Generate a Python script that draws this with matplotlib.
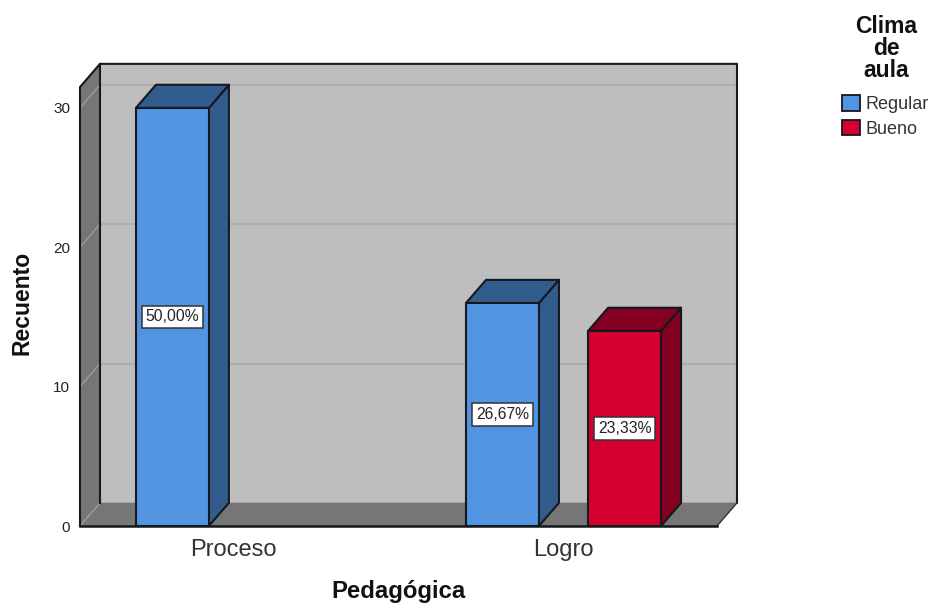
import matplotlib
matplotlib.use('Agg')
import matplotlib.pyplot as plt
from matplotlib.patches import Polygon, Patch

plt.rcParams['font.family'] = ['Liberation Sans', 'DejaVu Sans']

categories = ['Proceso', 'Logro']
series = ['Regular', 'Bueno']
regular = [30, 16]
bueno = [0, 14]
regular_labels = ['50,00%', '26,67%']
bueno_labels = ['', '23,33%']
yticks = [0, 10, 20, 30]

FRONT = {'Regular': '#5294E2', 'Bueno': '#D5002F'}
SIDE = {'Regular': '#335C8E', 'Bueno': '#830020'}
EDGE = '#14181f'

# depth of the fake 3d box, in data units
DX = 0.0606
DY = 1.66
XMIN, XMAX = -0.465, 1.465
YMAX = 31.5
BAR_W = 0.221
OFFSET = 0.185


def poly(ax, pts, color, edge='none', lw=1.5, z=1):
    ax.add_patch(Polygon(pts, closed=True, facecolor=color, edgecolor=edge,
                         linewidth=lw, zorder=z, clip_on=False, joinstyle='round'))


def drawWalls(ax):
    poly(ax, [(XMIN + DX, DY), (XMAX + DX, DY), (XMAX + DX, YMAX + DY), (XMIN + DX, YMAX + DY)], '#BEBEBE', z=1)
    poly(ax, [(XMIN, 0), (XMAX, 0), (XMAX + DX, DY), (XMIN + DX, DY)], '#767676', z=2)
    poly(ax, [(XMIN, 0), (XMIN + DX, DY), (XMIN + DX, YMAX + DY), (XMIN, YMAX)], '#767676', z=2)
    for t in yticks:
        ax.plot([XMIN + DX, XMAX + DX], [t + DY, t + DY], color='#ADADAD', lw=1.4, zorder=1.5, clip_on=False)
        ax.plot([XMIN, XMIN + DX], [t, t + DY], color='#9C9C9C', lw=1.0, zorder=2.5, clip_on=False)
    # outline of the box
    ax.plot([XMIN, XMIN, XMIN + DX, XMAX + DX, XMAX + DX], [0, YMAX, YMAX + DY, YMAX + DY, DY],
            color=EDGE, lw=1.5, zorder=3, clip_on=False)
    ax.plot([XMAX + DX, XMAX], [DY, 0], color='#333333', lw=1.0, zorder=3, clip_on=False)
    ax.plot([XMIN + DX, XMIN + DX], [DY, YMAX + DY], color=EDGE, lw=1.5, zorder=3, clip_on=False)
    ax.plot([XMIN, XMAX], [0, 0], color=EDGE, lw=1.8, zorder=3, clip_on=False)


def drawBar(ax, x, value, name, label):
    if value == 0:
        return
    l = x - BAR_W / 2
    r = x + BAR_W / 2
    poly(ax, [(l, 0), (r, 0), (r, value), (l, value)], FRONT[name], EDGE, z=5)
    poly(ax, [(r, 0), (r + DX, DY), (r + DX, value + DY), (r, value)], SIDE[name], EDGE, z=4)
    poly(ax, [(l, value), (r, value), (r + DX, value + DY), (l + DX, value + DY)], SIDE[name], EDGE, z=4)
    ax.text(x, value / 2, label, ha='center', va='center', fontsize=11.3, color='#222222', zorder=6,
            bbox=dict(boxstyle='square,pad=0.25', facecolor='white', edgecolor='#333333', linewidth=1.1))


fig = plt.figure(figsize=(9.31, 6.03), dpi=100)
ax = fig.add_axes([80 / 931, (603 - 526) / 603, 637 / 931, 439 / 603])
ax.set_xlim(XMIN, XMAX)
ax.set_ylim(0, YMAX)
for s in ax.spines.values():
    s.set_visible(False)

drawWalls(ax)
for i in range(len(categories)):
    drawBar(ax, i - OFFSET, regular[i], 'Regular', regular_labels[i])
    drawBar(ax, i + OFFSET, bueno[i], 'Bueno', bueno_labels[i])

ax.set_xticks(range(len(categories)))
ax.set_xticklabels(categories, fontsize=17, color='#333333')
ax.set_yticks(yticks)
ax.set_yticklabels([str(t) for t in yticks], fontsize=11, color='#222222')
ax.tick_params(axis='x', length=0, pad=9.5)
ax.tick_params(axis='y', length=0, pad=7)
ax.set_xlabel('Pedagógica', fontsize=17.2, fontweight='bold', labelpad=13.8, color='#111111')
ax.set_ylabel('Recuento', fontsize=16.5, fontweight='bold', labelpad=14, color='#111111', y=0.508)

fig.text(886 / 931, 1 - 48.5 / 603, 'Clima\nde\naula', ha='center', va='center', fontsize=16.5,
         fontweight='bold', linespacing=0.94, color='#111111')
handles = [Patch(facecolor=FRONT[n], edgecolor=EDGE, linewidth=1.3, label=n) for n in series]
fig.legend(handles=handles, loc='upper left', bbox_to_anchor=(842 / 931, 1 - 95 / 603),
           frameon=False, fontsize=13, handlelength=1.0, handleheight=0.95,
           handletextpad=0.3, labelspacing=0.38, borderpad=0, borderaxespad=0, labelcolor='#333333')

fig.savefig('out.png', dpi=100)
plt.close(fig)
